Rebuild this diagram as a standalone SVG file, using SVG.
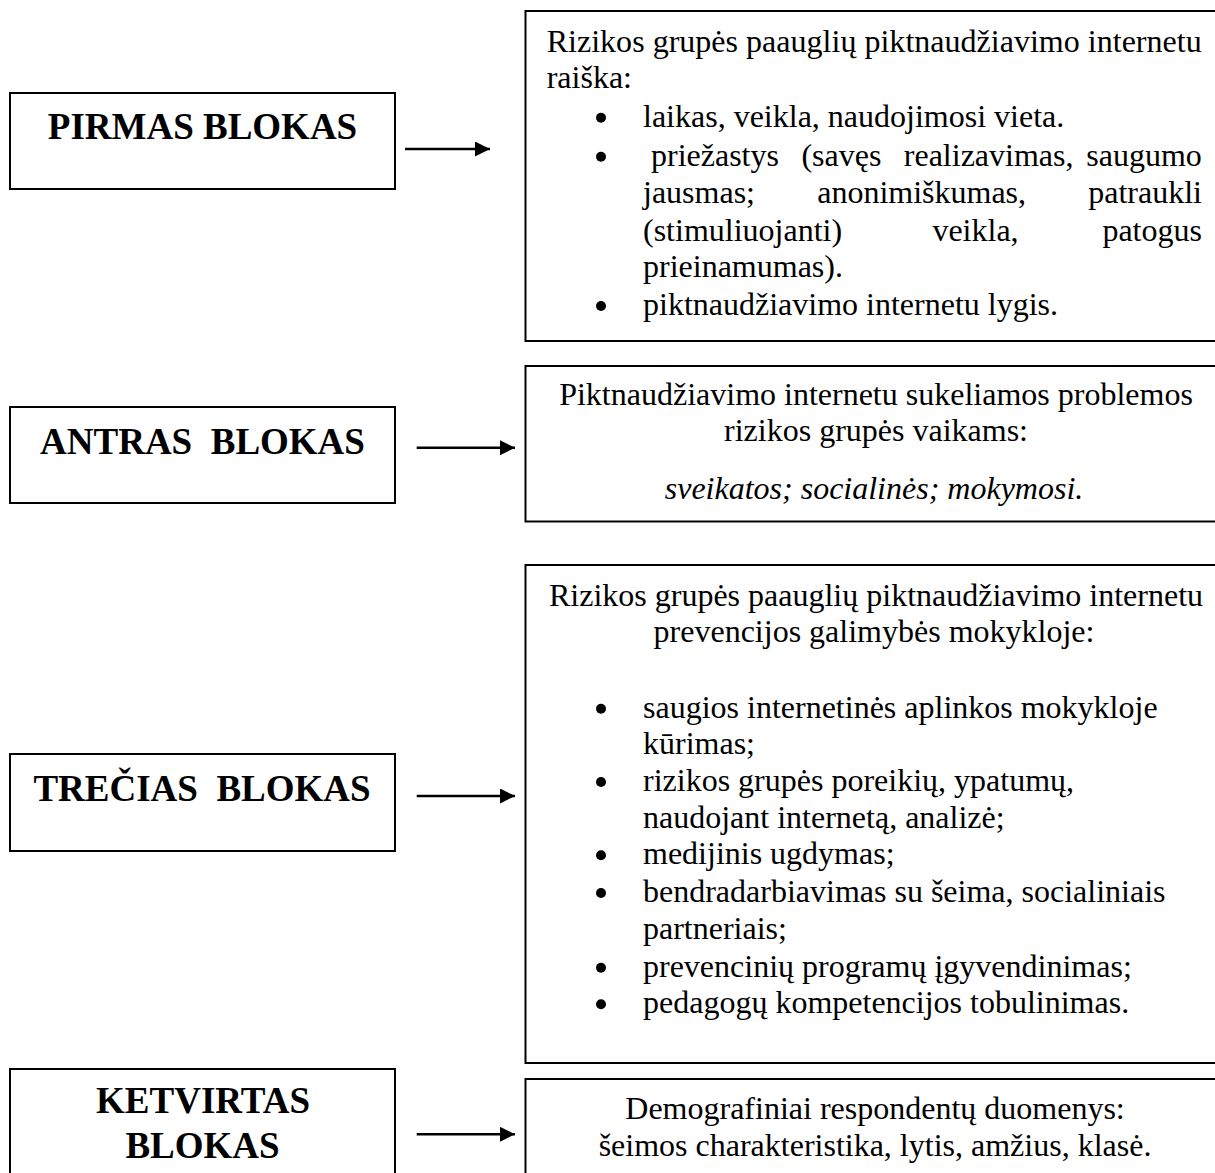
<svg xmlns="http://www.w3.org/2000/svg" width="1215" height="1173" viewBox="0 0 1215 1173">
<style>
.box{fill:#fff;stroke:#000;stroke-width:2}
.hd{font-family:"Liberation Serif","Times New Roman",serif;font-weight:bold;font-size:37px;fill:#000;text-anchor:middle}
.tx{font-family:"Liberation Serif","Times New Roman",serif;font-size:32px;fill:#000}
.c{text-anchor:middle}
.it{font-style:italic}
.bul{fill:#000}
.arr{stroke:#000;stroke-width:2.5;fill:none}
</style>
<defs>
<marker id="ah" markerUnits="userSpaceOnUse" markerWidth="16" markerHeight="16" refX="15" refY="7.5" orient="auto">
<path d="M0,0 L15,7.5 L0,15 z" fill="#000"/>
</marker>
</defs>
<rect width="1215" height="1173" fill="#fff"/>

<g id="pirmas-blokas">
<rect class="box" x="10" y="93" width="385" height="96"/>
<text class="hd" x="202.5" y="139">PIRMAS BLOKAS</text>
</g>

<g id="raiska">
<rect class="box" x="525.5" y="11" width="720" height="330"/>
<text class="tx" x="546.7" y="52.3" textLength="655">Rizikos grupės paauglių piktnaudžiavimo internetu</text>
<text class="tx" x="546.7" y="88.3">raiška:</text>
<circle class="bul" cx="601" cy="117.7" r="5"/>
<text class="tx" x="643" y="126.7">laikas, veikla, naudojimosi vieta.</text>
<circle class="bul" cx="601" cy="156.7" r="5"/>
<text class="tx" y="165.7"><tspan x="651">priežastys</tspan><tspan x="801.4">(savęs</tspan><tspan x="903.8">realizavimas,</tspan><tspan x="1086.3">saugumo</tspan></text>
<text class="tx" y="203.3"><tspan x="643">jausmas;</tspan><tspan x="817.2">anonimiškumas,</tspan><tspan x="1088.2">patraukli</tspan></text>
<text class="tx" y="240.7"><tspan x="643">(stimuliuojanti)</tspan><tspan x="932.4">veikla,</tspan><tspan x="1102.4">patogus</tspan></text>
<text class="tx" x="643" y="276.7">prieinamumas).</text>
<circle class="bul" cx="601" cy="306" r="5"/>
<text class="tx" x="643" y="315">piktnaudžiavimo internetu lygis.</text>
</g>

<g id="antras-blokas">
<rect class="box" x="10" y="407" width="385" height="96"/>
<text class="hd" x="202.5" y="454" xml:space="preserve">ANTRAS  BLOKAS</text>
</g>

<g id="problemos">
<rect class="box" x="525.5" y="366" width="720" height="155.5"/>
<text class="tx c" x="876" y="405">Piktnaudžiavimo internetu sukeliamos problemos</text>
<text class="tx c" x="876" y="441">rizikos grupės vaikams:</text>
<text class="tx c it" x="874" y="499">sveikatos; socialinės; mokymosi.</text>
</g>

<g id="trecias-blokas">
<rect class="box" x="10" y="754" width="385" height="97"/>
<text class="hd" x="202" y="801" xml:space="preserve">TREČIAS  BLOKAS</text>
</g>

<g id="prevencija">
<rect class="box" x="525.5" y="565" width="720" height="498"/>
<text class="tx c" x="876" y="606">Rizikos grupės paauglių piktnaudžiavimo internetu</text>
<text class="tx c" x="874" y="642">prevencijos galimybės mokykloje:</text>
<circle class="bul" cx="601" cy="708.7" r="5"/>
<text class="tx" x="643" y="717.7">saugios internetinės aplinkos mokykloje</text>
<text class="tx" x="643" y="754.3">kūrimas;</text>
<circle class="bul" cx="601" cy="782" r="5"/>
<text class="tx" x="643" y="791">rizikos grupės poreikių, ypatumų,</text>
<text class="tx" x="643" y="827.7">naudojant internetą, analizė;</text>
<circle class="bul" cx="601" cy="855.3" r="5"/>
<text class="tx" x="643" y="864.3">medijinis ugdymas;</text>
<circle class="bul" cx="601" cy="893" r="5"/>
<text class="tx" x="643" y="902">bendradarbiavimas su šeima, socialiniais</text>
<text class="tx" x="643" y="939">partneriais;</text>
<circle class="bul" cx="601" cy="967.7" r="5"/>
<text class="tx" x="643" y="976.7">prevencinių programų įgyvendinimas;</text>
<circle class="bul" cx="601" cy="1004.3" r="5"/>
<text class="tx" x="643" y="1013.3">pedagogų kompetencijos tobulinimas.</text>
</g>

<g id="ketvirtas-blokas">
<rect class="box" x="10" y="1069" width="385" height="130"/>
<text class="hd" x="203" y="1113.3">KETVIRTAS</text>
<text class="hd" x="202.5" y="1158.3">BLOKAS</text>
</g>

<g id="demografija">
<rect class="box" x="525.5" y="1079" width="720" height="130"/>
<text class="tx c" x="875" y="1119">Demografiniai respondentų duomenys:</text>
<text class="tx c" x="875" y="1156">šeimos charakteristika, lytis, amžius, klasė.</text>
</g>

<g id="connectors">
<line class="arr" x1="405" y1="149" x2="490" y2="149" marker-end="url(#ah)"/>
<line class="arr" x1="416.7" y1="447.7" x2="515" y2="447.7" marker-end="url(#ah)"/>
<line class="arr" x1="416.7" y1="796" x2="515" y2="796" marker-end="url(#ah)"/>
<line class="arr" x1="416.7" y1="1134.3" x2="515" y2="1134.3" marker-end="url(#ah)"/>
</g>
</svg>
